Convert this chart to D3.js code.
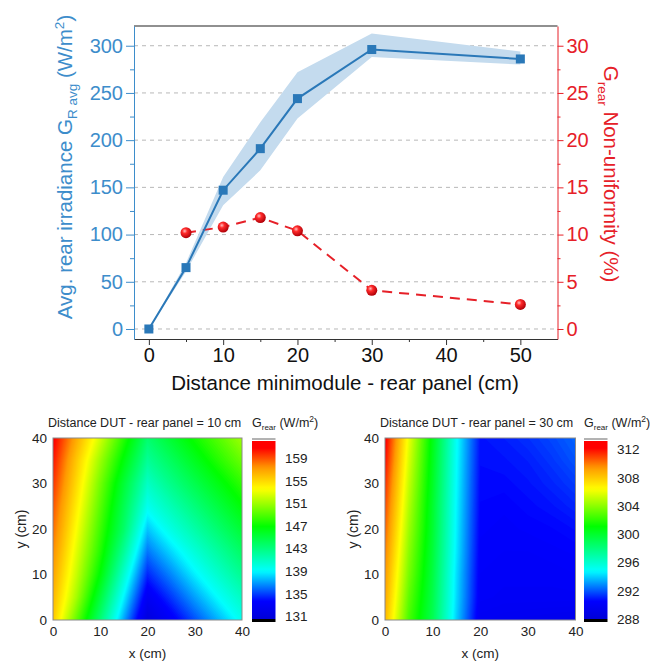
<!DOCTYPE html>
<html>
<head>
<meta charset="utf-8">
<script src="https://cdn.jsdelivr.net/npm/d3@7"></script>
<style>
  body { margin: 0; background: #fff; }
  svg { font-family: "Liberation Sans", Arial, sans-serif; }
</style>
</head>
<body>
<div id="grafico"></div>
<script>
// dados do grafico de cima
const dist    = [0, 5, 10, 15, 20, 30, 50];
const gAvg    = [0, 65, 147, 191, 244, 296, 286];
const gLow    = [0, 61, 131, 168, 223, 288, 280];
const gHigh   = [0, 70, 161, 219, 272, 313, 294];
const nuDist  = [5, 10, 15, 20, 30, 50];
const nonUnif = [10.2, 10.8, 11.8, 10.4, 4.1, 2.6];

const leftTicks  = [0, 50, 100, 150, 200, 250, 300];
const rightTicks = [0, 5, 10, 15, 20, 25, 30];
const xTicks     = [0, 10, 20, 30, 40, 50];

// mapas de irradiancia (linhas de y=40 ate y=0, colunas x=0..40 de 5 em 5 cm)
const map10 = [
  [161.0, 156.6, 152.3, 147.9, 143.5, 145.4, 147.3, 149.1, 151.0],
  [160.3, 155.5, 150.9, 146.5, 142.2, 144.0, 145.9, 147.8, 149.6],
  [159.6, 154.8, 149.9, 145.2, 140.8, 142.7, 144.5, 146.3, 148.1],
  [158.9, 154.1, 149.2, 144.4, 139.5, 141.3, 143.1, 144.9, 146.7],
  [158.3, 153.4, 148.5, 143.7, 137.8, 139.9, 141.7, 143.5, 145.3],
  [157.6, 152.7, 147.8, 142.2, 136.1, 138.2, 140.2, 142.0, 143.8],
  [156.9, 152.0, 146.7, 140.5, 134.4, 136.5, 138.7, 140.6, 142.4],
  [156.2, 151.1, 145.0, 138.8, 132.7, 134.8, 137.0, 139.1, 140.9],
  [155.5, 149.4, 143.3, 137.1, 131.0, 133.1, 135.3, 137.4, 139.5]
];
const map30 = [
  [312.5, 306.0, 300.6, 295.0, 290.8, 291.0, 291.3, 291.7, 292.2],
  [312.0, 305.6, 300.4, 294.9, 290.7, 290.8, 291.0, 291.4, 291.9],
  [311.4, 305.2, 300.2, 294.8, 290.6, 290.6, 290.8, 291.1, 291.5],
  [310.9, 304.8, 300.0, 294.7, 290.5, 290.4, 290.6, 290.8, 291.1],
  [310.4, 304.4, 299.9, 294.6, 290.4, 290.3, 290.4, 290.5, 290.7],
  [309.9, 304.0, 299.7, 294.5, 290.3, 290.2, 290.2, 290.3, 290.4],
  [309.4, 303.6, 299.5, 294.3, 290.2, 290.1, 290.1, 290.1, 290.2],
  [309.0, 303.1, 299.3, 294.2, 290.1, 290.0, 290.0, 290.0, 290.0],
  [308.5, 302.6, 299.1, 294.0, 289.8, 289.6, 289.5, 289.4, 289.3]
];
const cbTicks10 = [131, 135, 139, 143, 147, 151, 155, 159];
const cbTicks30 = [288, 292, 296, 300, 304, 308, 312];
const mapTicks  = [0, 10, 20, 30, 40];

const blue = "#2a78b8";
const blueAxis = "#3d8dcb";
const red = "#e62028";

const svg = d3.select("#grafico")
              .append("svg")
              .attr("width", 662)
              .attr("height", 662);

const defs = svg.append("defs");

// bolinha vermelha
const ball = defs.append("radialGradient").attr("id", "ball")
                 .attr("cx", "38%").attr("cy", "35%").attr("r", "65%");
ball.append("stop").attr("offset", "0%").attr("stop-color", "#ffc0c0");
ball.append("stop").attr("offset", "35%").attr("stop-color", "#ff2a2a");
ball.append("stop").attr("offset", "100%").attr("stop-color", "#b00008");

// ---------------- grafico de cima ----------------
const x  = d3.scaleLinear().domain([-2, 55]).range([134, 557.5]);
const yL = d3.scaleLinear().domain([-10.6, 320.9]).range([339, 26]);
const yR = d3.scaleLinear().domain([-1.06, 32.09]).range([339, 26]);

// linhas de grade
svg.append("g")
   .selectAll("line")
   .data(leftTicks)
   .join("line")
   .attr("x1", 134).attr("x2", 557.5)
   .attr("y1", d => yL(d)).attr("y2", d => yL(d))
   .attr("stroke", "#b8b8b8")
   .attr("stroke-dasharray", "4,4");

// faixa de incerteza
const band = d3.area()
               .x((d, i) => x(dist[i]))
               .y0((d, i) => yL(gLow[i]))
               .y1((d, i) => yL(gHigh[i]));
svg.append("path")
   .attr("d", band(dist))
   .attr("fill", "#c4dbee");

// serie vermelha
const redLine = d3.line().x((d, i) => x(nuDist[i])).y(d => yR(d));
svg.append("path")
   .attr("d", redLine(nonUnif))
   .attr("fill", "none")
   .attr("stroke", red)
   .attr("stroke-width", 2)
   .attr("stroke-dasharray", "10,7");
svg.append("g")
   .selectAll("circle")
   .data(nonUnif)
   .join("circle")
   .attr("cx", (d, i) => x(nuDist[i]))
   .attr("cy", d => yR(d))
   .attr("r", 5.5)
   .attr("fill", "url(#ball)");

// serie azul
const blueLine = d3.line().x((d, i) => x(dist[i])).y(d => yL(d));
svg.append("path")
   .attr("d", blueLine(gAvg))
   .attr("fill", "none")
   .attr("stroke", blue)
   .attr("stroke-width", 2);
svg.append("g")
   .selectAll("rect")
   .data(gAvg)
   .join("rect")
   .attr("x", (d, i) => x(dist[i]) - 4.5)
   .attr("y", d => yL(d) - 4.5)
   .attr("width", 9)
   .attr("height", 9)
   .attr("fill", blue);

// moldura de cima
svg.append("line")
   .attr("x1", 134).attr("x2", 557.5).attr("y1", 26).attr("y2", 26)
   .attr("stroke", "#222").attr("stroke-width", 1.2);

// eixo x
const gx = svg.append("g")
              .attr("transform", "translate(0,339)")
              .attr("color", "#333")
              .style("font-size", "20px")
              .call(d3.axisBottom(x).tickValues(xTicks).tickSize(6).tickSizeOuter(0).tickPadding(3));
gx.selectAll("text").attr("fill", "#111");
svg.append("g")
   .attr("transform", "translate(0,339)")
   .attr("color", "#333")
   .call(d3.axisBottom(x).tickValues([5, 15, 25, 35, 45]).tickSize(3).tickFormat(""))
   .select(".domain").remove();

// eixo y esquerdo
svg.append("g")
   .attr("transform", "translate(134,0)")
   .attr("color", blueAxis)
   .style("font-size", "20px")
   .call(d3.axisLeft(yL).tickValues(leftTicks).tickSize(8).tickSizeOuter(0).tickPadding(3));
svg.append("g")
   .attr("transform", "translate(134,0)")
   .attr("color", blueAxis)
   .call(d3.axisLeft(yL).tickValues([25, 75, 125, 175, 225, 275]).tickSize(4).tickFormat(""))
   .select(".domain").remove();

// eixo y direito
svg.append("g")
   .attr("transform", "translate(557.5,0)")
   .attr("color", red)
   .style("font-size", "20px")
   .call(d3.axisRight(yR).tickValues(rightTicks).tickSize(6).tickSizeOuter(0).tickPadding(3));
svg.append("g")
   .attr("transform", "translate(557.5,0)")
   .attr("color", red)
   .call(d3.axisRight(yR).tickValues([2.5, 7.5, 12.5, 17.5, 22.5, 27.5]).tickSize(3).tickFormat(""))
   .select(".domain").remove();

// label do eixo x
svg.append("text")
   .attr("x", 345).attr("y", 390)
   .attr("text-anchor", "middle")
   .attr("font-size", "20.5px")
   .attr("fill", "#111")
   .text("Distance minimodule - rear panel (cm)");

// label do eixo y esquerdo
const lt = svg.append("text")
              .attr("transform", "translate(72,167) rotate(-90)")
              .attr("text-anchor", "middle")
              .attr("font-size", "20.5px")
              .attr("fill", blueAxis);
lt.append("tspan").text("Avg. rear irradiance G");
lt.append("tspan").attr("dy", 5).attr("font-size", "13.5px").text("R avg");
lt.append("tspan").attr("dy", -5).text(" (W/m");
lt.append("tspan").attr("dy", -8).attr("font-size", "13.5px").text("2");
lt.append("tspan").attr("dy", 8).text(")");

// label do eixo y direito
const rt = svg.append("text")
              .attr("transform", "translate(604,174) rotate(90)")
              .attr("text-anchor", "middle")
              .attr("font-size", "20.5px")
              .attr("fill", red);
rt.append("tspan").text("G");
rt.append("tspan").attr("dy", 6).attr("font-size", "13.5px").text("rear");
rt.append("tspan").attr("dy", -6).text(" Non-uniformity (%)");

// ---------------- mapas ----------------
const stops  = [0, 0.1, 0.27, 0.52, 0.73, 0.85, 0.96, 1];
const colors = ["#0000d8", "#0000ff", "#00ffff", "#00ff00", "#ffff00", "#ff9900", "#ff0000", "#ff0000"];

function drawMap(m) {
  const lo = m.range[0], hi = m.range[1];
  const color = d3.scaleLinear()
                  .domain(stops.map(t => lo + t * (hi - lo)))
                  .range(colors)
                  .clamp(true);

  const xs = d3.scaleLinear().domain([0, 40]).range([m.x0, m.x1]);
  const ys = d3.scaleLinear().domain([0, 40]).range([m.y1, m.y0]);
  // coordenadas da grade do d3.contours (valor i fica em i + 0.5)
  const gxs = d3.scaleLinear().domain([0.5, 8.5]).range([m.x0, m.x1]);
  const gys = d3.scaleLinear().domain([0.5, 8.5]).range([m.y0, m.y1]);

  const clipId = "clip" + m.id;
  defs.append("clipPath").attr("id", clipId)
      .append("rect")
      .attr("x", m.x0).attr("y", m.y0)
      .attr("width", m.x1 - m.x0).attr("height", m.y1 - m.y0);

  const step = (hi - lo) / 160;
  const thr = d3.range(lo - step * 4, hi + step, step);
  const contours = d3.contours().size([9, 9]).thresholds(thr)(m.data.flat());
  const proj = d3.geoTransform({
    point: function (px, py) { this.stream.point(gxs(px), gys(py)); }
  });
  const path = d3.geoPath(proj);

  svg.append("g")
     .attr("clip-path", `url(#${clipId})`)
     .selectAll("path")
     .data(contours)
     .join("path")
     .attr("d", path)
     .attr("fill", d => color(d.value + step / 2));

  svg.append("rect")
     .attr("x", m.x0).attr("y", m.y0)
     .attr("width", m.x1 - m.x0).attr("height", m.y1 - m.y0)
     .attr("fill", "none").attr("stroke", "#8a8a8a").attr("stroke-width", 1);

  // eixos
  const ax = svg.append("g")
                .attr("transform", `translate(0,${m.y1})`)
                .style("font-size", "13.5px")
                .call(d3.axisBottom(xs).tickValues(mapTicks).tickSize(0).tickPadding(6));
  ax.select(".domain").remove();
  ax.selectAll("text").attr("fill", "#222");
  const ay = svg.append("g")
                .attr("transform", `translate(${m.x0},0)`)
                .style("font-size", "13.5px")
                .call(d3.axisLeft(ys).tickValues(mapTicks).tickSize(0).tickPadding(6));
  ay.select(".domain").remove();
  ay.selectAll("text").attr("fill", "#222");

  svg.append("text")
     .attr("x", (m.x0 + m.x1) / 2).attr("y", 658)
     .attr("text-anchor", "middle").attr("font-size", "13.5px").attr("fill", "#222")
     .text("x (cm)");
  svg.append("text")
     .attr("transform", `translate(${m.x0 - 27},${(m.y0 + m.y1) / 2}) rotate(-90)`)
     .attr("text-anchor", "middle").attr("font-size", "14px").attr("fill", "#222")
     .text("y (cm)");

  // titulo
  svg.append("text")
     .attr("x", m.x0 - 5).attr("y", 427)
     .attr("font-size", "12.5px").attr("fill", "#222")
     .text(m.title);
  const gt = svg.append("text")
                .attr("x", m.cbx).attr("y", 427)
                .attr("font-size", "12.5px").attr("fill", "#222");
  gt.append("tspan").text("G");
  gt.append("tspan").attr("dy", 3).attr("font-size", "8px").text("rear");
  gt.append("tspan").attr("dy", -3).text(" (W/m");
  gt.append("tspan").attr("dy", -5).attr("font-size", "8.5px").text("2");
  gt.append("tspan").attr("dy", 5).text(")");

  // barra de cores
  const cb = d3.scaleLinear().domain([lo, hi]).range([m.y1 - 1, m.y0 + 3]);
  const gradId = "grad" + m.id;
  const grad = defs.append("linearGradient").attr("id", gradId)
                   .attr("x1", 0).attr("x2", 0).attr("y1", 1).attr("y2", 0);
  d3.range(0, 1.0001, 0.02).forEach(t => {
    grad.append("stop").attr("offset", t).attr("stop-color", color(lo + t * (hi - lo)));
  });
  svg.append("rect")
     .attr("x", m.cbx).attr("y", cb(hi))
     .attr("width", 23.5).attr("height", cb(lo) - cb(hi))
     .attr("fill", `url(#${gradId})`);
  svg.append("rect")
     .attr("x", m.cbx).attr("y", cb(lo))
     .attr("width", 23.5).attr("height", 3)
     .attr("fill", "#000");
  svg.append("line")
     .attr("x1", m.cbx).attr("x2", m.cbx + 23.5)
     .attr("y1", cb(hi) - 2).attr("y2", cb(hi) - 2)
     .attr("stroke", "#666").attr("stroke-width", 1);
  svg.append("g")
     .selectAll("text")
     .data(m.cbTicks)
     .join("text")
     .attr("x", m.cbx + 33)
     .attr("y", d => cb(d) + 5)
     .attr("font-size", "13.5px")
     .attr("fill", "#222")
     .text(d => d);
}

drawMap({ id: "a", data: map10, range: [130.5, 162], x0: 53, x1: 242, y0: 438, y1: 620,
          cbx: 252, cbTicks: cbTicks10, title: "Distance DUT - rear panel = 10 cm" });
drawMap({ id: "b", data: map30, range: [288, 313.2], x0: 385, x1: 575.5, y0: 438, y1: 620,
          cbx: 584, cbTicks: cbTicks30, title: "Distance DUT - rear panel = 30 cm" });
</script>
</body>
</html>
